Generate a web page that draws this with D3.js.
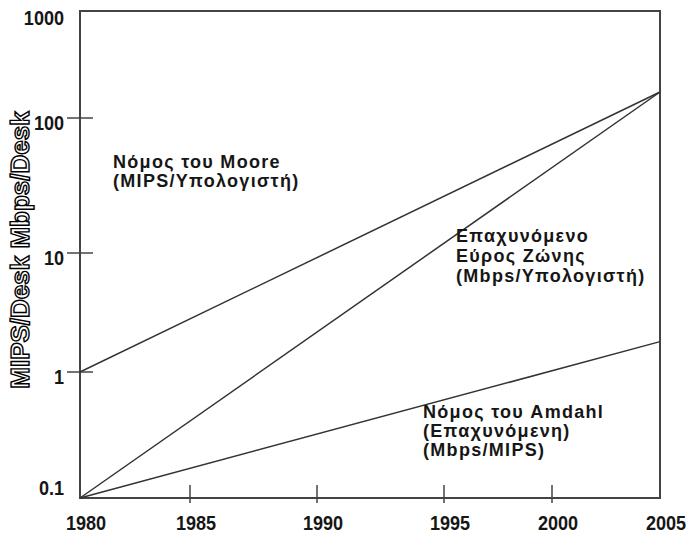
<!DOCTYPE html>
<html>
<head>
<meta charset="utf-8">
<script src="https://cdn.jsdelivr.net/npm/d3@7"></script>
<style>
body { margin: 0; background: #fff; }
</style>
</head>
<body>
<script>
// tick values
var years = [1980, 1985, 1990, 1995, 2000, 2005]
var yTicks = [0.1, 1, 10, 100, 1000]
var yTickLabels = ['0.1', '1', '10', '100', '1000']

// series: value at 1980 and at 2005
var lineYears = [1980, 2005]
var mooreValues = [1, 175]
var bandwidthValues = [0.1, 175]
var amdahlValues = [0.1, 1.8]

var mooreLabel = ['Νόμος του Moore', '(MIPS/Υπολογιστή)']
var bandwidthLabel = ['Επαχυνόμενο', 'Εύρος Ζώνης', '(Mbps/Υπολογιστή)']
var amdahlLabel = ['Νόμος του Amdahl', '(Επαχυνόμενη)', '(Mbps/MIPS)']
var yTitle = 'MIPS/Desk Mbps/Desk'

var lineColor = '#333333'
var frameColor = '#444444'
var textColor = '#161616'
var font = "'Liberation Sans', Arial, sans-serif"

const svg = d3.select('body').append('svg')
    .attr('width', 689)
    .attr('height', 534)

// hand drawn original: tick spacing is not even
var xScale = d3.scaleLinear()
    .domain(years)
    .range([80, 190, 317, 444, 552, 660])

var logScale = d3.scaleLinear()
    .domain(yTicks.map(d => Math.log10(d)))
    .range([498, 372, 253, 118, 11])

var y = v => logScale(Math.log10(v))

var canvas = svg.append('g')

// frame
canvas.append('rect')
    .attr('x', xScale(1980))
    .attr('y', y(1000))
    .attr('width', xScale(2005) - xScale(1980))
    .attr('height', y(0.1) - y(1000))
    .attr('fill', 'none')
    .attr('stroke', frameColor)
    .attr('stroke-width', 2)

// x ticks
canvas.selectAll('.xtick')
    .data(years.slice(1, -1))
    .enter().append('line')
    .attr('x1', d => xScale(d))
    .attr('x2', d => xScale(d))
    .attr('y1', y(0.1) - 13)
    .attr('y2', y(0.1) + 5)
    .attr('stroke', frameColor)
    .attr('stroke-width', 1.5)

canvas.selectAll('.xlabel')
    .data(years)
    .enter().append('text')
    .attr('transform', d => 'translate(' + (xScale(d) + 6) + ',530) scale(0.95,1.1)')
    .attr('text-anchor', 'middle')
    .attr('fill', textColor)
    .style('font-family', font)
    .style('font-weight', 'bold')
    .style('font-size', '19px')
    .text(d => d)

// y ticks
canvas.selectAll('.ytick')
    .data(yTicks.slice(1, -1))
    .enter().append('line')
    .attr('x1', xScale(1980) - 13)
    .attr('x2', xScale(1980) + 13)
    .attr('y1', d => y(d))
    .attr('y2', d => y(d))
    .attr('stroke', frameColor)
    .attr('stroke-width', 1.5)

canvas.selectAll('.ylabel')
    .data(yTicks)
    .enter().append('text')
    .attr('transform', d => 'translate(64,' + Math.min(Math.max(y(d) + 5, 18), 488) + ') scale(0.95,1.1)')
    .attr('dy', '0.35em')
    .attr('text-anchor', 'end')
    .attr('fill', textColor)
    .style('font-family', font)
    .style('font-weight', 'bold')
    .style('font-size', '19px')
    .text((d, i) => yTickLabels[i])

// outlined axis title
canvas.append('text')
    .attr('transform', 'translate(20,250) rotate(-90)')
    .attr('text-anchor', 'middle')
    .attr('dy', '0.35em')
    .attr('fill', '#ffffff')
    .attr('stroke', '#000000')
    .attr('stroke-width', 1.4)
    .style('font-family', font)
    .style('font-weight', 'bold')
    .style('font-size', '26px')
    .text(yTitle)

// lines
var series = [mooreValues, bandwidthValues, amdahlValues]
var line = d3.line()
    .x((d, i) => xScale(lineYears[i]))
    .y(d => y(d))

canvas.selectAll('.series')
    .data(series)
    .enter().append('path')
    .attr('d', d => line(d))
    .attr('fill', 'none')
    .attr('stroke', lineColor)
    .attr('stroke-width', 1.5)

function label(lines, x, y0, step) {
    var t = canvas.append('text')
        .attr('fill', textColor)
        .style('font-family', font)
        .style('font-weight', 'bold')
        .style('font-size', '18px')
        .style('letter-spacing', '1.3px')
    lines.forEach((s, i) => {
        t.append('tspan')
            .attr('x', x)
            .attr('y', y0 + i * step)
            .text(s)
    })
}

label(mooreLabel, 113, 168, 19)
label(bandwidthLabel, 456, 242, 20)
label(amdahlLabel, 423, 418, 19)
</script>
</body>
</html>
